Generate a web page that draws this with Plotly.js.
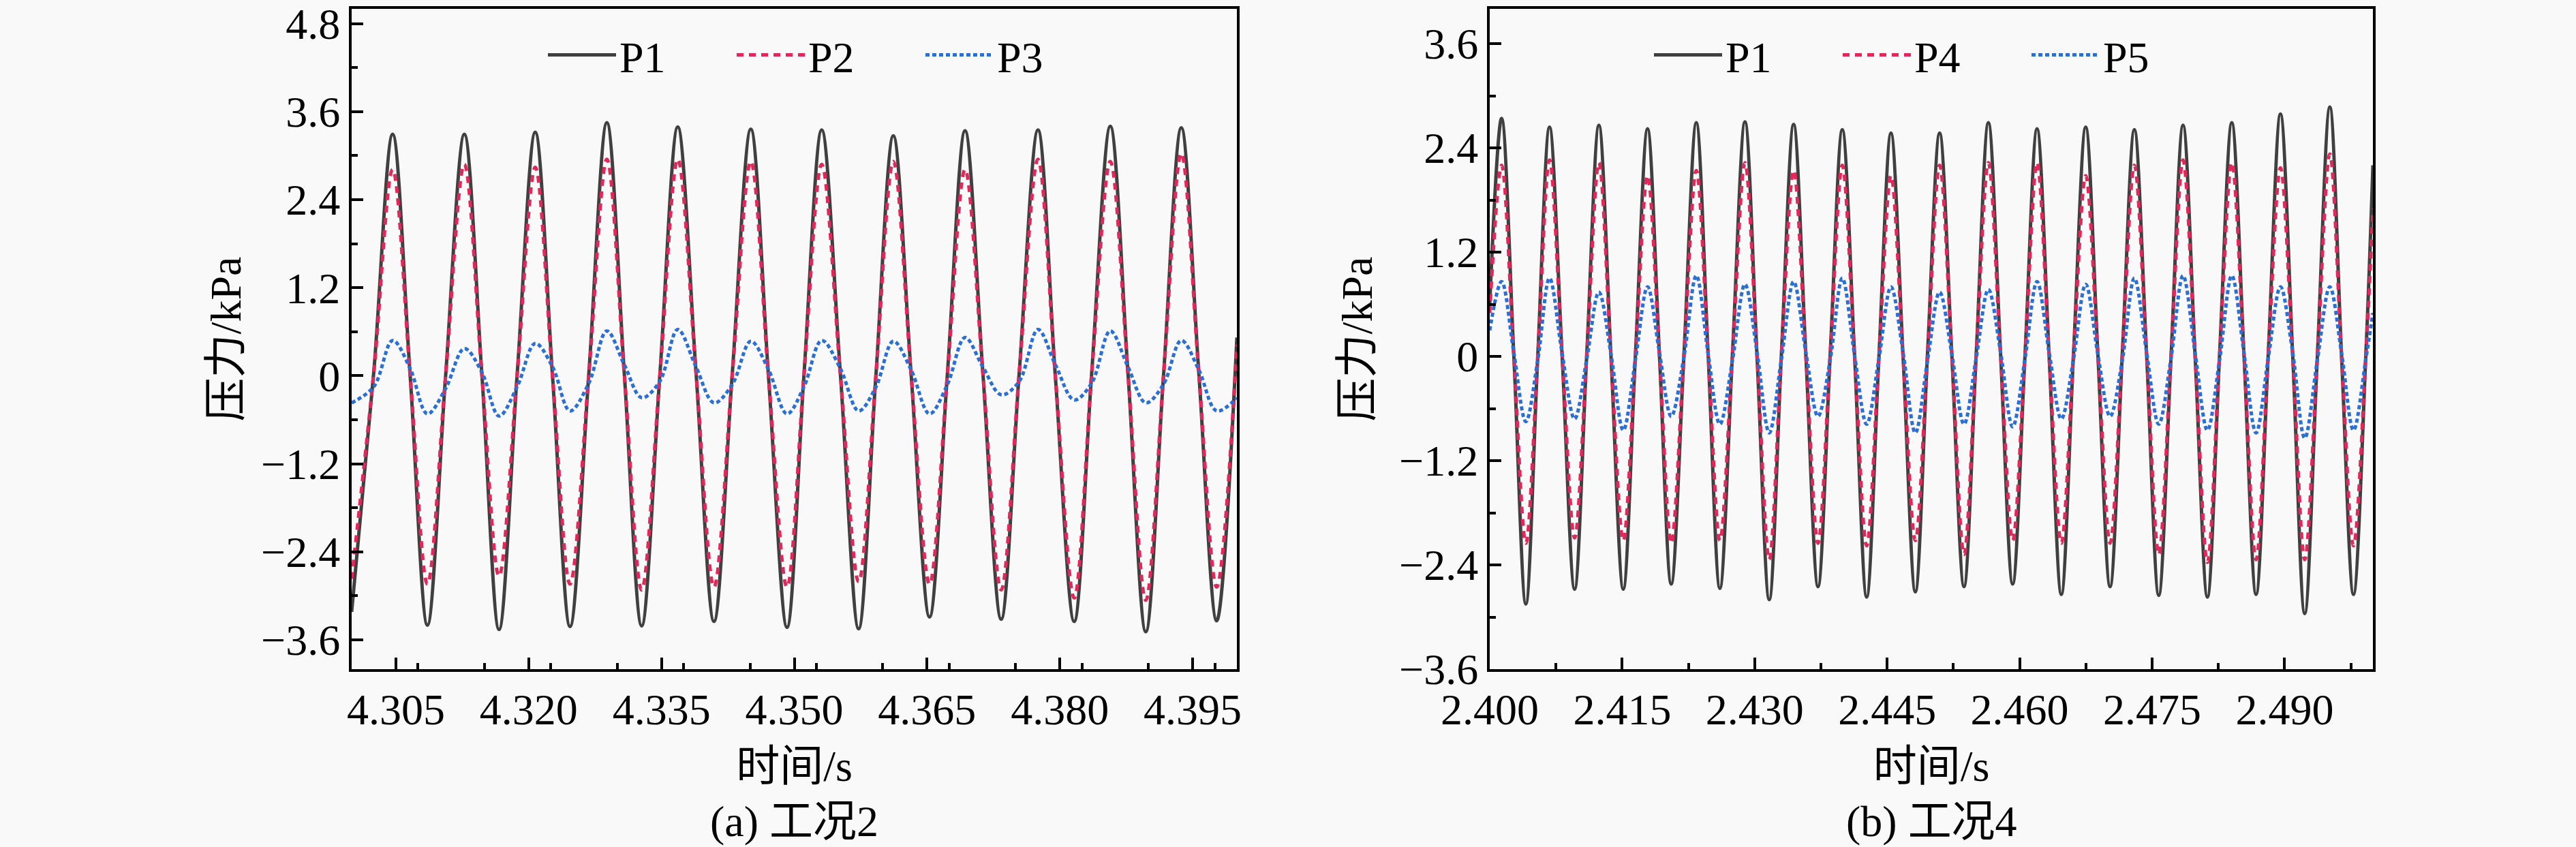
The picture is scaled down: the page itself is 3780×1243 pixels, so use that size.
<!DOCTYPE html>
<html>
<head>
<meta charset="utf-8">
<script src="https://cdn.plot.ly/plotly-3.0.1.min.js"></script>
<style>
  html, body { margin: 0; padding: 0; background: #f9f9f9; }
</style>
</head>
<body>
<div id="chart"></div>
<script>
// (a) 工况2 : time stamps read at troughs / zero crossings / peaks of P1
const timeA = [4.3000,
  4.3025, 4.30463, 4.3066, 4.30856,
  4.3106, 4.31273, 4.3147, 4.31665,
  4.3187, 4.32074, 4.3227, 4.32467,
  4.3268, 4.32883, 4.3308, 4.33276,
  4.3348, 4.33684, 4.3389, 4.34093,
  4.3430, 4.34509, 4.3471, 4.34918,
  4.3511, 4.35310, 4.3552, 4.35727,
  4.3592, 4.36119, 4.3632, 4.36528,
  4.3673, 4.36929, 4.3713, 4.37337,
  4.3754, 4.37753, 4.3795, 4.38162,
  4.3836, 4.38570, 4.3877, 4.38971,
  4.3917, 4.39372, 4.3957, 4.39772,
  4.4000];
const p1A = [-3.22,
  0.05, 3.29, 0.02, -3.40,
  -0.03, 3.29, 0.04, -3.46,
  0.02, 3.32, -0.02, -3.42,
  0.04, 3.45, 0.03, -3.41,
  -0.02, 3.39, 0.05, -3.35,
  0.03, 3.36, -0.03, -3.43,
  0.02, 3.35, 0.04, -3.45,
  -0.04, 3.27, 0.02, -3.29,
  0.03, 3.34, 0.05, -3.32,
  0.02, 3.35, -0.02, -3.35,
  0.04, 3.40, 0.03, -3.49,
  -0.02, 3.38, 0.04, -3.34,
  0.52];
const p2A = [-2.77,
  0.04, 2.81, 0.02, -2.84,
  -0.02, 2.88, 0.03, -2.73,
  0.02, 2.84, -0.02, -2.84,
  0.03, 2.95, 0.02, -2.92,
  -0.02, 2.95, 0.04, -2.88,
  0.02, 2.92, -0.03, -2.88,
  0.02, 2.88, 0.03, -2.81,
  -0.03, 2.92, 0.02, -2.84,
  0.02, 2.81, 0.04, -2.92,
  0.02, 2.95, -0.02, -3.03,
  0.03, 2.92, 0.02, -3.06,
  -0.02, 3.03, 0.03, -2.88,
  0.42];
const p3A = [-0.37,
  -0.15, 0.48, 0.10, -0.52,
  -0.18, 0.37, 0.05, -0.55,
  -0.15, 0.44, 0.12, -0.48,
  -0.10, 0.61, 0.15, -0.30,
  -0.08, 0.63, 0.12, -0.37,
  -0.12, 0.47, 0.08, -0.52,
  -0.15, 0.48, 0.10, -0.48,
  -0.16, 0.47, 0.08, -0.52,
  -0.12, 0.52, 0.12, -0.26,
  -0.08, 0.63, 0.15, -0.33,
  -0.10, 0.61, 0.12, -0.37,
  -0.12, 0.48, 0.08, -0.48,
  -0.30];

// (b) 工况4 : peaks / zero crossings / troughs of P1
const timeB = [2.4000,
  2.40134, 2.40272, 2.40409, 2.40543,
  2.40677, 2.40819, 2.40961, 2.41099,
  2.41236, 2.41374, 2.41512, 2.41650,
  2.41787, 2.41921, 2.42055, 2.42197,
  2.42339, 2.42473, 2.42606, 2.42748,
  2.42890, 2.43028, 2.43165, 2.43303,
  2.43441, 2.43579, 2.43717, 2.43855,
  2.43992, 2.44130, 2.44268, 2.44406,
  2.44543, 2.44681, 2.44819, 2.44957,
  2.45094, 2.45232, 2.45370, 2.45508,
  2.45646, 2.45784, 2.45921, 2.46059,
  2.46197, 2.46335, 2.46472, 2.46610,
  2.46748, 2.46886, 2.47024, 2.47162,
  2.47299, 2.47437, 2.47575, 2.47713,
  2.47850, 2.47988, 2.48126, 2.48264,
  2.48402, 2.48540, 2.48677, 2.48815,
  2.48953, 2.49091, 2.49228, 2.49370,
  2.49512, 2.49646, 2.49780, 2.49920,
  2.5000];
const p1B = [0.60,
  2.74, 0.03, -2.85, -0.02,
  2.64, 0.02, -2.68, 0.03,
  2.66, -0.02, -2.68, 0.02,
  2.62, 0.03, -2.62, -0.03,
  2.69, 0.02, -2.67, 0.02,
  2.70, -0.03, -2.80, 0.03,
  2.67, 0.02, -2.65, 0.02,
  2.61, 0.03, -2.77, -0.02,
  2.57, -0.02, -2.71, 0.03,
  2.57, 0.02, -2.65, 0.02,
  2.69, 0.03, -2.62, -0.02,
  2.62, -0.02, -2.74, 0.03,
  2.64, 0.02, -2.65, 0.02,
  2.61, 0.03, -2.75, -0.03,
  2.66, -0.02, -2.77, 0.02,
  2.69, 0.02, -2.74, 0.03,
  2.79, 0.03, -2.96, -0.02,
  2.87, -0.02, -2.74, 0.02,
  2.20];
const p4B = [0.50,
  2.20, 0.02, -2.15, -0.02,
  2.26, 0.03, -2.09, 0.02,
  2.23, -0.02, -2.12, 0.02,
  2.08, 0.02, -2.15, -0.02,
  2.14, 0.03, -2.12, 0.02,
  2.23, -0.02, -2.34, 0.03,
  2.14, 0.02, -2.15, 0.02,
  2.20, 0.02, -2.18, -0.02,
  2.08, -0.02, -2.12, 0.02,
  2.20, 0.03, -2.28, 0.02,
  2.23, 0.02, -2.12, -0.02,
  2.23, -0.02, -2.15, 0.03,
  2.08, 0.02, -2.15, 0.02,
  2.20, 0.03, -2.28, -0.02,
  2.26, -0.02, -2.37, 0.02,
  2.23, 0.02, -2.34, 0.03,
  2.17, 0.02, -2.34, -0.02,
  2.33, -0.02, -2.18, 0.02,
  1.70];
const p5B = [0.30,
  0.86, 0.05, -0.75, -0.05,
  0.90, 0.04, -0.72, -0.03,
  0.74, 0.02, -0.85, -0.04,
  0.80, 0.05, -0.69, -0.02,
  0.93, 0.03, -0.78, -0.05,
  0.83, 0.04, -0.88, -0.03,
  0.86, 0.05, -0.69, -0.04,
  0.90, 0.02, -0.78, -0.03,
  0.80, 0.04, -0.88, -0.05,
  0.74, 0.03, -0.78, -0.02,
  0.77, 0.05, -0.81, -0.04,
  0.86, 0.04, -0.72, -0.03,
  0.83, 0.02, -0.69, -0.05,
  0.90, 0.05, -0.78, -0.03,
  0.93, 0.03, -0.85, -0.04,
  0.93, 0.04, -0.88, -0.02,
  0.80, 0.05, -0.94, -0.05,
  0.80, 0.03, -0.85, -0.03,
  0.50];

const xTicksA = [4.305, 4.320, 4.335, 4.350, 4.365, 4.380, 4.395];
const xLabelsA = ['4.305', '4.320', '4.335', '4.350', '4.365', '4.380', '4.395'];
const xTicksB = [2.400, 2.415, 2.430, 2.445, 2.460, 2.475, 2.490];
const xLabelsB = ['2.400', '2.415', '2.430', '2.445', '2.460', '2.475', '2.490'];
const yTicksA = [-3.6, -2.4, -1.2, 0, 1.2, 2.4, 3.6, 4.8];
const yLabelsA = ['\u22123.6', '\u22122.4', '\u22121.2', '0', '1.2', '2.4', '3.6', '4.8'];
const yTicksB = [-3.6, -2.4, -1.2, 0, 1.2, 2.4, 3.6];
const yLabelsB = ['\u22123.6', '\u22122.4', '\u22121.2', '0', '1.2', '2.4', '3.6'];

const W = 3780, H = 1243;
const serif = 'Liberation Serif, Noto Sans CJK SC, serif';
const tickFont = { family: serif, size: 64, color: '#000' };

const lineTrace = (name, x, y, color, dash, xa, ya, legend) => ({
    name: name, x: x, y: y, xaxis: xa, yaxis: ya, legend: legend,
    type: 'scatter', mode: 'lines',
    line: { color: color, width: 5, dash: dash, shape: 'spline', smoothing: 1 },
});

const gray = '#404040', red = '#e2285a', blue = '#2a6fd6';

let series = [
    lineTrace('P1', timeA, p1A, gray, 'solid', 'x', 'y', 'legend'),
    lineTrace('P2', timeA, p2A, red, '10px,8px', 'x', 'y', 'legend'),
    lineTrace('P3', timeA, p3A, blue, '6px,4px', 'x', 'y', 'legend'),
    lineTrace('P1', timeB, p1B, gray, 'solid', 'x2', 'y2', 'legend2'),
    lineTrace('P4', timeB, p4B, red, '10px,8px', 'x2', 'y2', 'legend2'),
    lineTrace('P5', timeB, p5B, blue, '6px,4px', 'x2', 'y2', 'legend2'),
];

const frame = {
    showline: true, linewidth: 4, linecolor: '#000', mirror: true,
    ticks: 'inside', ticklen: 17, tickwidth: 4, tickcolor: '#000',
    showgrid: false, zeroline: false, tickfont: tickFont, tickmode: 'array',
    ticklabeloverflow: 'allow',
};

const xAxis = (dom, range, vals, labels, tick0) => Object.assign({}, frame, {
    domain: dom, range: range, tickvals: vals, ticktext: labels,
    minor: { ticks: 'inside', ticklen: 9, tickwidth: 4, tickcolor: '#000', tickmode: 'linear', tick0: tick0, dtick: 0.0075 },
    title: { text: '时间/s', font: tickFont, standoff: 26 },
});
const yAxis = (range, vals, labels, anchor, standoff) => Object.assign({}, frame, {
    domain: [261 / H, 1230 / H], range: range, tickvals: vals, ticktext: labels, anchor: anchor,
    minor: { ticks: 'inside', ticklen: 9, tickwidth: 4, tickcolor: '#000', tickmode: 'linear', tick0: 0, dtick: 0.6 },
    title: { text: '压力/kPa', font: tickFont, standoff: standoff },
});

const legendBox = (x) => ({
    x: x, xanchor: 'left', y: 1 - 81 / H, yanchor: 'middle',
    orientation: 'h', bgcolor: 'rgba(0,0,0,0)', font: tickFont,
    itemwidth: 100, entrywidth: 162, tracegroupgap: 0,
});

const caption = (text, x) => ({
    text: text, x: x / W, y: 1 - 1205 / H, xref: 'paper', yref: 'paper',
    xanchor: 'center', yanchor: 'middle', showarrow: false, font: tickFont,
});

let layout = {
    width: W, height: H,
    margin: { l: 0, r: 0, t: 0, b: 0, pad: 0 },
    paper_bgcolor: '#f9f9f9', plot_bgcolor: '#f9f9f9',
    showlegend: true,
    xaxis: xAxis([516 / W, 1815 / W], [4.3, 4.4], xTicksA, xLabelsA, 4.3),
    yaxis: yAxis([-4.0, 5.0], yTicksA, yLabelsA, 'x', 10),
    xaxis2: Object.assign(xAxis([2186 / W, 3482 / W], [2.4, 2.5], xTicksB, xLabelsB, 2.4), { anchor: 'y2' }),
    yaxis2: yAxis([-3.6, 4.0], yTicksB, yLabelsB, 'x2', 20),
    legend: legendBox(799 / W),
    legend2: legendBox(2422 / W),
    annotations: [caption('(a) 工况2', 1165), caption('(b) 工况4', 2834)],
};

Plotly.newPlot('chart', series, layout, { displayModeBar: false, responsive: false, staticPlot: true });
</script>
</body>
</html>
